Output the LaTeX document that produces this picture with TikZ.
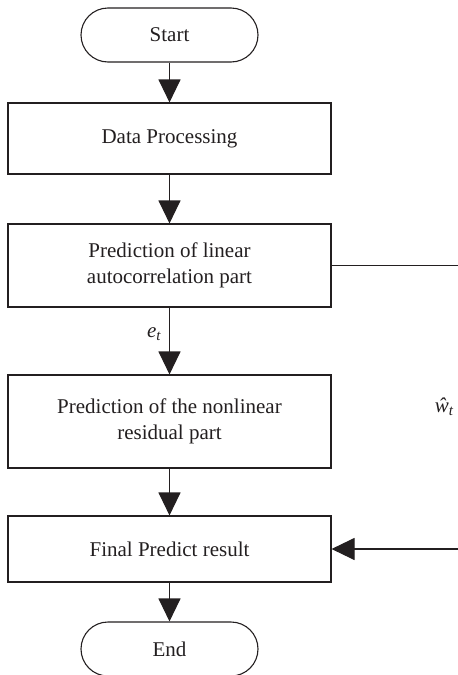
\documentclass[tikz,border=0pt]{standalone}
\usepackage{fontspec}
\setmainfont{Liberation Serif}
\usetikzlibrary{arrows.meta}
\definecolor{ink}{HTML}{231F20}
\newcommand{\symsub}[2]{\textit{#1}\raisebox{-0.35ex}{\fontsize{15}{15}\selectfont\textit{#2}}}
\begin{document}
\begin{tikzpicture}[x=1pt,y=-1pt,
  font=\fontsize{21}{26}\selectfont,
  every node/.style={text=ink},
  procbox/.style={draw=ink, line width=1.1pt, rectangle, minimum width=323pt, inner sep=0pt, align=center},
  terminal/.style={draw=ink, line width=1.1pt, rectangle, rounded corners=27pt, minimum width=177pt, minimum height=54pt, inner sep=0pt},
  flow/.style={draw=ink, line width=1.1pt, -{Triangle[length=23pt,width=22pt]}},
  plain/.style={draw=ink, line width=1.1pt}]
\useasboundingbox (0,0) rectangle (458,675);

\node[terminal] (start) at (169.5,35) {Start};
\node[procbox, minimum height=71pt] (data) at (169.5,138.5) {Data Processing};
\node[procbox, minimum height=83pt] (lin) at (169.5,265.5) {Prediction of linear\\autocorrelation part};
\node[procbox, minimum height=93pt] (nonlin) at (169.5,421.5) {Prediction of the nonlinear\\residual part};
\node[procbox, minimum height=66pt] (final) at (169.5,549) {Final Predict result};
\node[terminal] (end) at (169.5,649) {End};

\coordinate (outR) at (458,265.5);
\coordinate (inR) at (458,549);

\draw[flow] (start) -- (data);
\draw[flow] (data) -- (lin);
\draw[flow] (lin) -- (nonlin);
\draw[flow] (nonlin) -- (final);
\draw[flow] (final) -- (end);
\draw[plain] (lin.east) -- (outR);
\draw[flow] (inR) -- (final.east);

\node (et) at (154,334) {\symsub{e}{t}};
\node (wt) at (444,407) {\symsub{\^{w}}{t}};
\end{tikzpicture}
\end{document}
